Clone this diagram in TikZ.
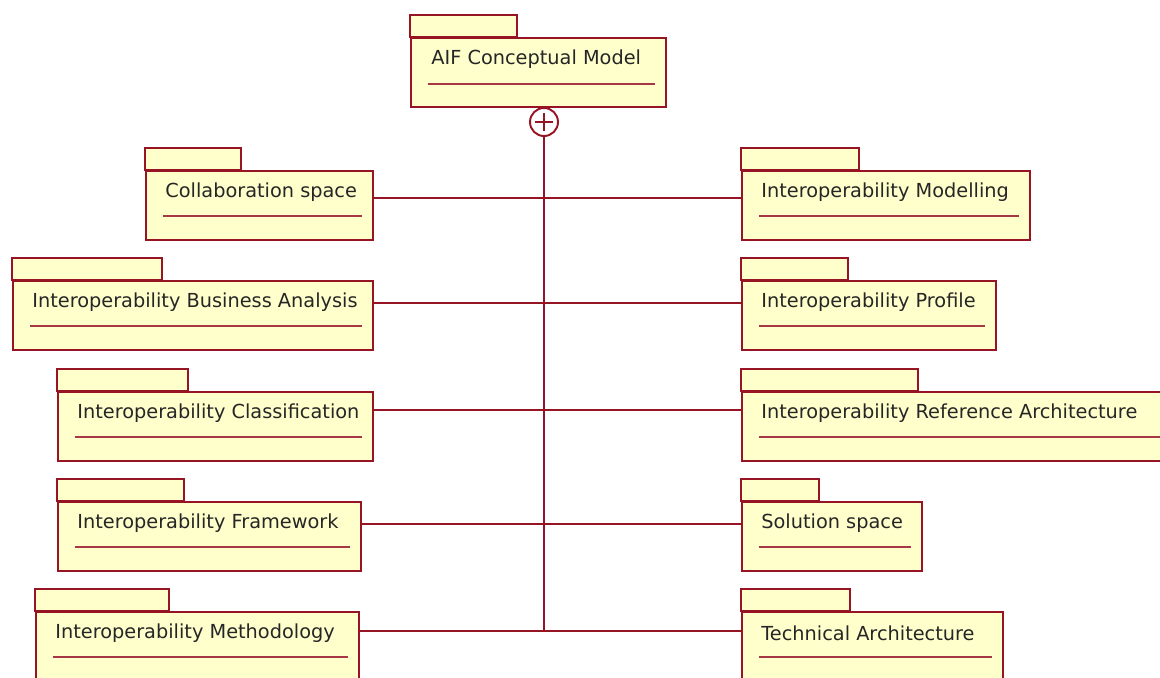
\documentclass[tikz,border=0pt]{standalone}
\usepackage{fontspec}
\setmainfont{DejaVu Sans}
\usetikzlibrary{calc}
\definecolor{pkgred}{RGB}{150,20,35}
\definecolor{pkgfill}{RGB}{255,255,204}

\begin{document}
\begin{tikzpicture}[x=0.02cm,y=-0.02cm,
  pkgbody/.style={draw=pkgred,fill=pkgfill,line width=1.1pt,rectangle,
    anchor=north west,inner sep=0pt,minimum height=69*0.02cm},
  pkgtab/.style={draw=pkgred,fill=pkgfill,line width=1.1pt},
  pkgtext/.style={anchor=west,inner sep=0pt,text=black!85,
    font=\fontsize{11}{13}\selectfont},
  pkgrule/.style={pkgred!85,line width=1pt},
  conn/.style={pkgred,line width=0.9pt}]
  \clip (0,0) rectangle (1160,677);

  % container package
  \node[pkgbody,minimum width=255*0.02cm] (aif) at (410,37) {};
  \draw[pkgtab] (aif.north west) rectangle ++(107,-22);
  \node[pkgtext] (aif-t) at ($(aif.north west)+(21,22)$) {AIF Conceptual Model};
  \draw[pkgrule] ($(aif.north west)+(18,47)$) -- ($(aif.north east)+(-12,47)$);
  \node[circle,draw=pkgred,fill=white,line width=1.1pt,minimum size=28*0.02cm,
    inner sep=0pt] (plus) at (544,122) {};
  \draw[conn] ($(plus.center)+(-9,0)$) -- ($(plus.center)+(9,0)$);
  \draw[conn] ($(plus.center)+(0,-9)$) -- ($(plus.center)+(0,9)$);
  \coordinate (spine-end) at (544,631);
  \draw[conn] (plus) -- (spine-end);

  % nested packages
  \foreach \n/\x/\t/\w/\tw/\cy/\s/\lbl in {
      l1/145/170/227/96/198/east/Collaboration space,
      l2/12/280/360/150/303/east/Interoperability Business Analysis,
      l3/57/391/315/131/410/east/Interoperability Classification,
      l4/57/501/303/127/524/east/Interoperability Framework,
      l5/35/611/323/134/631/east/Interoperability Methodology,
      r1/741/170/288/118/198/west/Interoperability Modelling,
      r2/741/280/254/107/303/west/Interoperability Profile,
      r3/741/391/430/177/410/west/Interoperability Reference Architecture,
      r4/741/501/180/78/524/west/Solution space,
      r5/741/611/261/109/631/west/Technical Architecture}
  {
    \node[pkgbody,minimum width=\w*0.02cm] (\n) at (\x,\t) {};
    \draw[pkgtab] (\n.north west) rectangle ++(\tw,-22);
    \node[pkgtext] (\n-t) at ($(\n.north west)+(20,22)$) {\lbl};
    \draw[pkgrule] ($(\n.north west)+(18,46)$) -- ($(\n.north east)+(-12,46)$);
    \coordinate (\n-j) at (544,\cy);
    \draw[conn] (\n-j) -- (\n-j -| \n.\s);
  }
\end{tikzpicture}
\end{document}
